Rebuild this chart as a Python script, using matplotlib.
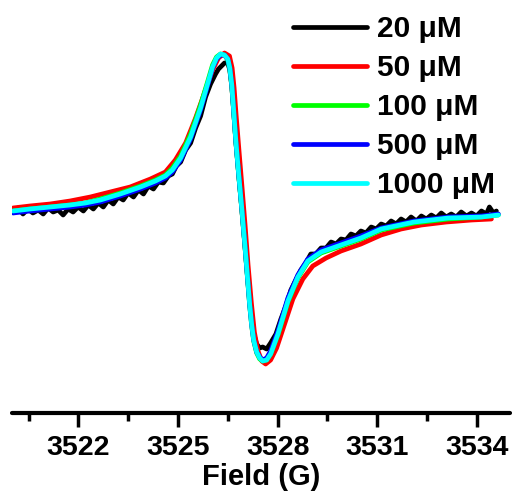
import matplotlib
matplotlib.use("Agg")
import matplotlib.pyplot as plt
from matplotlib.ticker import MultipleLocator

plt.rcParams["font.family"] = ["Liberation Sans", "DejaVu Sans"]
plt.rcParams["font.weight"] = "bold"

# field axis (G) for the smooth traces
field = [3520.03, 3520.54, 3521.15, 3521.75, 3522.21, 3522.66, 3523.26, 3523.87,
         3524.32, 3524.62, 3524.83, 3525.08, 3525.38, 3525.68, 3525.89, 3526.04,
         3526.16, 3526.28, 3526.40, 3526.50, 3526.56, 3526.62, 3526.68, 3526.74,
         3526.83, 3526.92, 3527.01, 3527.10, 3527.16, 3527.22, 3527.28, 3527.37,
         3527.46, 3527.55, 3527.67, 3527.79, 3528.01, 3528.31, 3528.61, 3528.91,
         3529.31, 3529.91, 3530.51, 3531.12, 3532.11, 3533.14, 3534.14, 3534.65]

sig_1000 = [0.02, 0.04, 0.06, 0.08, 0.10, 0.13, 0.19, 0.26,
            0.32, 0.37, 0.43, 0.55, 0.76, 1.05, 1.29, 1.46,
            1.55, 1.59, 1.58, 1.54, 1.45, 1.28, 1.01, 0.73,
            0.38, 0.05, -0.30, -0.67, -0.92, -1.12, -1.27, -1.39,
            -1.45, -1.48, -1.47, -1.41, -1.21, -0.88, -0.64, -0.48,
            -0.39, -0.32, -0.25, -0.16, -0.09, -0.05, -0.04, -0.02]

sig_500 = [0.00, 0.02, 0.04, 0.06, 0.08, 0.11, 0.17, 0.24,
           0.30, 0.35, 0.41, 0.53, 0.74, 1.03, 1.27, 1.45,
           1.54, 1.58, 1.58, 1.54, 1.45, 1.28, 1.01, 0.73,
           0.38, 0.05, -0.30, -0.67, -0.92, -1.12, -1.27, -1.39,
           -1.44, -1.47, -1.45, -1.38, -1.18, -0.85, -0.62, -0.46,
           -0.37, -0.30, -0.23, -0.15, -0.08, -0.04, -0.03, -0.01]

sig_100 = [0.02, 0.04, 0.06, 0.08, 0.10, 0.14, 0.20, 0.27,
           0.33, 0.38, 0.45, 0.57, 0.79, 1.08, 1.31, 1.48,
           1.56, 1.59, 1.58, 1.53, 1.44, 1.27, 1.00, 0.72,
           0.37, 0.04, -0.31, -0.68, -0.93, -1.13, -1.28, -1.40,
           -1.46, -1.48, -1.47, -1.41, -1.22, -0.89, -0.65, -0.49,
           -0.40, -0.33, -0.26, -0.17, -0.10, -0.06, -0.04, -0.02]

field_50 = [3520.03, 3520.54, 3521.15, 3521.75, 3522.36, 3522.96, 3523.56, 3524.17,
            3524.62, 3524.92, 3525.23, 3525.53, 3525.83, 3526.04, 3526.22, 3526.40,
            3526.55, 3526.63, 3526.69, 3526.75, 3526.84, 3526.93, 3527.02, 3527.11,
            3527.21, 3527.30, 3527.40, 3527.52, 3527.64, 3527.79, 3527.97, 3528.19,
            3528.46, 3528.76, 3529.06, 3529.46, 3529.91, 3530.51, 3531.12, 3531.72,
            3532.33, 3533.08, 3533.84, 3534.44]
sig_50 = [0.05, 0.07, 0.09, 0.12, 0.16, 0.21, 0.26, 0.34,
          0.41, 0.53, 0.70, 0.95, 1.23, 1.43, 1.55, 1.60,
          1.57, 1.45, 1.25, 0.98, 0.61, 0.25, -0.12, -0.52,
          -0.90, -1.19, -1.37, -1.48, -1.51, -1.47, -1.35, -1.13,
          -0.86, -0.66, -0.53, -0.45, -0.38, -0.31, -0.22, -0.16,
          -0.12, -0.09, -0.07, -0.06]

field_20 = [3520.03, 3520.18, 3520.33, 3520.48, 3520.63, 3520.79, 3520.94, 3521.09,
            3521.24, 3521.39, 3521.54, 3521.69, 3521.84, 3521.99, 3522.15, 3522.30,
            3522.45, 3522.60, 3522.75, 3522.90, 3523.05, 3523.20, 3523.35, 3523.50,
            3523.66, 3523.81, 3523.96, 3524.11, 3524.26, 3524.41, 3524.56, 3524.71,
            3524.83, 3524.95, 3525.08, 3525.23, 3525.38, 3525.53, 3525.68, 3525.83,
            3525.98, 3526.13, 3526.22, 3526.31, 3526.40, 3526.50, 3526.56, 3526.62,
            3526.68, 3526.74, 3526.83, 3526.92, 3527.01, 3527.10, 3527.16, 3527.22,
            3527.28, 3527.37, 3527.46, 3527.55, 3527.67, 3527.79, 3527.95, 3528.10,
            3528.25, 3528.40, 3528.55, 3528.70, 3528.85, 3529.00, 3529.15, 3529.31,
            3529.46, 3529.61, 3529.76, 3529.91, 3530.06, 3530.21, 3530.36, 3530.51,
            3530.66, 3530.82, 3530.97, 3531.12, 3531.27, 3531.42, 3531.57, 3531.72,
            3531.87, 3532.02, 3532.18, 3532.33, 3532.48, 3532.63, 3532.78, 3532.93,
            3533.08, 3533.23, 3533.38, 3533.53, 3533.69, 3533.84, 3533.99, 3534.14,
            3534.29, 3534.38, 3534.50, 3534.59]
sig_20 = [0.01, 0.05, -0.01, 0.04, 0.00, 0.03, -0.01, 0.05,
          0.01, 0.03, -0.02, 0.04, 0.01, 0.06, 0.02, 0.08,
          0.04, 0.10, 0.06, 0.13, 0.09, 0.16, 0.13, 0.20,
          0.16, 0.23, 0.19, 0.27, 0.24, 0.31, 0.30, 0.37,
          0.39, 0.47, 0.51, 0.63, 0.70, 0.85, 0.97, 1.16,
          1.29, 1.39, 1.44, 1.47, 1.50, 1.50, 1.43, 1.27,
          1.01, 0.73, 0.38, 0.05, -0.30, -0.66, -0.89, -1.08,
          -1.21, -1.31, -1.35, -1.34, -1.36, -1.30, -1.21, -1.06,
          -0.93, -0.77, -0.67, -0.57, -0.50, -0.41, -0.41, -0.35,
          -0.35, -0.29, -0.31, -0.26, -0.27, -0.21, -0.23, -0.18,
          -0.20, -0.14, -0.16, -0.11, -0.13, -0.08, -0.11, -0.06,
          -0.09, -0.04, -0.08, -0.03, -0.06, -0.02, -0.05, 0.00,
          -0.04, -0.01, -0.04, 0.01, -0.03, 0.00, -0.03, 0.02,
          -0.01, 0.06, 0.00, 0.02]

series = [
    ("20 μM", field_20, sig_20, "#000000"),
    ("50 μM", field_50, sig_50, "#ff0000"),
    ("100 μM", field, sig_100, "#00ff00"),
    ("500 μM", field, sig_500, "#0000ff"),
    ("1000 μM", field, sig_1000, "#00ffff"),
]

fig = plt.figure(figsize=(5.14, 4.94), dpi=100)
ax = fig.add_axes([12 / 514, 1 - 413 / 494, 498 / 514, 413 / 494])

for label, x, y, c in series:
    ax.plot(x, y, color=c, lw=3.4, label=label, solid_capstyle="round")

ax.set_xlim(3520, 3535)
ax.set_ylim(-2.0, 2.13)

for side in ["top", "right", "left"]:
    ax.spines[side].set_visible(False)
ax.spines["bottom"].set_linewidth(3)
ax.spines["bottom"].set_capstyle("round")
ax.set_yticks([])

ax.set_xticks([3522, 3525, 3528, 3531, 3534])
ax.xaxis.set_minor_locator(MultipleLocator(1.5))
ax.tick_params(axis="x", which="major", length=10, width=2.5, labelsize=20.5, pad=5.5)
ax.tick_params(axis="x", which="minor", length=6, width=2.5)
ax.set_xlabel("Field (G)", fontsize=21, fontweight="bold", labelpad=1.8)

ax.legend(loc="upper left", bbox_to_anchor=(293 / 514, 1 - 15 / 494),
          bbox_transform=fig.transFigure, frameon=False, fontsize=21.5,
          handlelength=2.48, handletextpad=0.33, labelspacing=0.37,
          borderpad=0, borderaxespad=0)

fig.savefig("out.png", dpi=100)
